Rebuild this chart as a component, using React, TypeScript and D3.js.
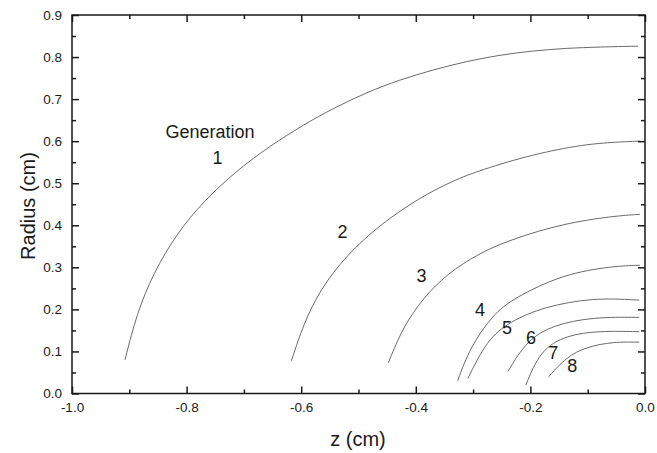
import { useEffect, useRef } from "react";
import * as d3 from "d3";

const W = 657, H = 453;
const M = { top: 15, right: 12, bottom: 59.5, left: 72 };
const IW = W - M.left - M.right;
const IH = H - M.top - M.bottom;

// [z, r] in cm
const GEN1: [number, number][] = [
  [-0.9075, 0.08], [-0.887, 0.19], [-0.858, 0.286], [-0.817, 0.381], [-0.771, 0.456],
  [-0.713, 0.53], [-0.654, 0.589], [-0.595, 0.64], [-0.544, 0.678], [-0.486, 0.716],
  [-0.428, 0.746], [-0.369, 0.77], [-0.311, 0.79], [-0.253, 0.805], [-0.195, 0.815],
  [-0.137, 0.821], [-0.079, 0.824], [-0.012, 0.826],
];
const GEN2: [number, number][] = [
  [-0.617, 0.078], [-0.596, 0.165], [-0.567, 0.247], [-0.521, 0.329], [-0.462, 0.402],
  [-0.393, 0.466], [-0.335, 0.506], [-0.288, 0.531], [-0.195, 0.569], [-0.108, 0.592],
  [-0.05, 0.598], [-0.009, 0.6],
];
const GEN3: [number, number][] = [
  [-0.448, 0.073], [-0.422, 0.159], [-0.387, 0.227], [-0.346, 0.284], [-0.288, 0.335],
  [-0.23, 0.368], [-0.143, 0.404], [-0.055, 0.422], [-0.009, 0.426],
];
const GEN4: [number, number][] = [
  [-0.327, 0.03], [-0.305, 0.111], [-0.265, 0.188], [-0.23, 0.226], [-0.143, 0.284],
  [-0.055, 0.303], [-0.009, 0.305],
];
const GEN5: [number, number][] = [
  [-0.309, 0.036], [-0.276, 0.127], [-0.236, 0.171], [-0.177, 0.206], [-0.09, 0.228], [-0.01, 0.222],
];
const GEN6: [number, number][] = [
  [-0.239, 0.053], [-0.206, 0.127], [-0.16, 0.163], [-0.09, 0.182], [-0.01, 0.181],
];
const GEN7: [number, number][] = [
  [-0.208, 0.02], [-0.183, 0.103], [-0.137, 0.139], [-0.079, 0.149], [-0.01, 0.147],
];
const GEN8: [number, number][] = [
  [-0.168, 0.04], [-0.137, 0.087], [-0.102, 0.111], [-0.055, 0.123], [-0.01, 0.122],
];
const SERIES = [GEN1, GEN2, GEN3, GEN4, GEN5, GEN6, GEN7, GEN8];

const LABELS = [
  { text: "Generation", z: -0.759, r: 0.622 },
  { text: "1", z: -0.746, r: 0.559 },
  { text: "2", z: -0.528, r: 0.384 },
  { text: "3", z: -0.39, r: 0.28 },
  { text: "4", z: -0.288, r: 0.198 },
  { text: "5", z: -0.241, r: 0.156 },
  { text: "6", z: -0.199, r: 0.131 },
  { text: "7", z: -0.16, r: 0.097 },
  { text: "8", z: -0.127, r: 0.066 },
];

const X_TICKS = [-1.0, -0.8, -0.6, -0.4, -0.2, 0.0];
const X_MINOR = [-0.9, -0.7, -0.5, -0.3, -0.1];
const Y_TICKS = [0, 0.1, 0.2, 0.3, 0.4, 0.5, 0.6, 0.7, 0.8, 0.9];
const Y_MINOR = [0.05, 0.15, 0.25, 0.35, 0.45, 0.55, 0.65, 0.75, 0.85];

const FONT = "'Liberation Sans', Arial, Helvetica, sans-serif";
const INK = "#1a1a1a";

export default function App() {
  const ref = useRef<SVGSVGElement>(null);

  useEffect(() => {
    const svg = d3.select(ref.current);
    svg.selectAll("*").remove();

    const x = d3.scaleLinear().domain([-1, 0]).range([0, IW]);
    const y = d3.scaleLinear().domain([0, 0.9]).range([IH, 0]);

    const g = svg.append("g").attr("transform", `translate(${M.left},${M.top})`);

    // curves (basis spline smooths the hand-read points)
    const line = d3.line<[number, number]>()
      .x(d => x(d[0])).y(d => y(d[1]))
      .curve(d3.curveBasis);
    g.selectAll("path.gen").data(SERIES).join("path")
      .attr("class", "gen")
      .attr("d", d => line(d))
      .attr("fill", "none").attr("stroke", "#6a6a6a").attr("stroke-width", 1);

    // labels
    g.selectAll("text.lab").data(LABELS).join("text")
      .attr("class", "lab")
      .attr("x", d => x(d.z)).attr("y", d => y(d.r))
      .attr("text-anchor", "middle").attr("dominant-baseline", "central")
      .attr("font-family", FONT).attr("font-size", 18).attr("fill", INK)
      .text(d => d.text);

    // axes, ticks pointing inward on all four sides
    const styleAx = (a: any) => {
      a.select(".domain").remove();
      a.selectAll("line").attr("stroke", INK).attr("stroke-width", 1.5);
      a.selectAll("text").attr("font-family", FONT).attr("font-size", 13.5).attr("fill", INK);
    };
    const fmt = (d: any) => (+d).toFixed(1);
    const none = () => "";

    g.append("g").attr("transform", `translate(0,${IH})`)
      .call(d3.axisBottom(x).tickValues(X_TICKS).tickSizeInner(-7).tickSizeOuter(0).tickPadding(9).tickFormat(fmt))
      .call(styleAx);
    g.append("g").attr("transform", `translate(0,${IH})`)
      .call(d3.axisBottom(x).tickValues(X_MINOR).tickSizeInner(-4).tickSizeOuter(0).tickFormat(none))
      .call(styleAx);
    g.append("g")
      .call(d3.axisTop(x).tickValues(X_TICKS).tickSizeInner(-7).tickSizeOuter(0).tickFormat(none))
      .call(styleAx);
    g.append("g")
      .call(d3.axisTop(x).tickValues(X_MINOR).tickSizeInner(-4).tickSizeOuter(0).tickFormat(none))
      .call(styleAx);

    g.append("g")
      .call(d3.axisLeft(y).tickValues(Y_TICKS).tickSizeInner(-7).tickSizeOuter(0).tickPadding(10).tickFormat(fmt))
      .call(styleAx);
    g.append("g")
      .call(d3.axisLeft(y).tickValues(Y_MINOR).tickSizeInner(-4).tickSizeOuter(0).tickFormat(none))
      .call(styleAx);
    g.append("g").attr("transform", `translate(${IW},0)`)
      .call(d3.axisRight(y).tickValues(Y_TICKS).tickSizeInner(-7).tickSizeOuter(0).tickFormat(none))
      .call(styleAx);
    g.append("g").attr("transform", `translate(${IW},0)`)
      .call(d3.axisRight(y).tickValues(Y_MINOR).tickSizeInner(-4).tickSizeOuter(0).tickFormat(none))
      .call(styleAx);

    // frame
    g.append("rect").attr("width", IW).attr("height", IH)
      .attr("fill", "none").attr("stroke", INK).attr("stroke-width", 1.5);

    // axis titles
    svg.append("text")
      .attr("x", 358).attr("y", 446)
      .attr("text-anchor", "middle")
      .attr("font-family", FONT).attr("font-size", 20).attr("fill", INK)
      .text("z (cm)");
    svg.append("text")
      .attr("transform", `translate(28,206) rotate(-90)`)
      .attr("text-anchor", "middle").attr("dominant-baseline", "central")
      .attr("font-family", FONT).attr("font-size", 20).attr("fill", INK)
      .text("Radius (cm)");
  }, []);

  return (
    <div style={{ position: "fixed", left: 0, top: 0, width: W, height: H, background: "#fff", overflow: "hidden" }}>
      <svg ref={ref} width={W} height={H} style={{ display: "block" }} />
    </div>
  );
}
